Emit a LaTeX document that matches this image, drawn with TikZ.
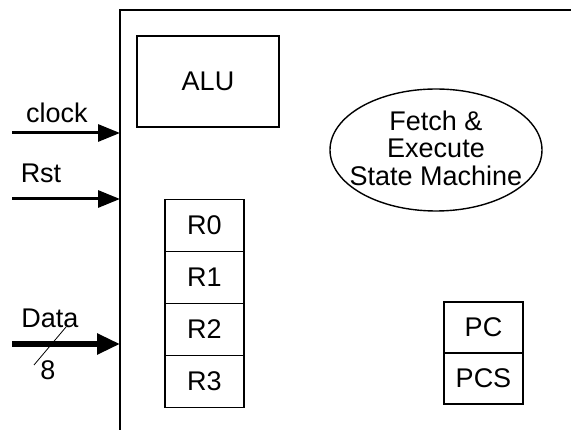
\documentclass[tikz,border=0pt]{standalone}
\usepackage{fontspec}
\setmainfont{Liberation Sans}
\usetikzlibrary{positioning,shapes.geometric,arrows.meta}

\begin{document}
\begin{tikzpicture}[x=1pt, y=-1pt, node distance=0pt,
		font=\fontsize{27}{27.5}\selectfont,
		block/.style={rectangle, draw, line width=1.8pt, outer sep=0pt, inner sep=0pt},
		reg/.style={block, minimum width=79pt, minimum height=52pt},
		sig/.style={line width=3pt, -{Triangle[length=22pt,width=17pt]}},
		bus/.style={line width=5.5pt, -{Triangle[length=23pt,width=20pt]}}]
		\useasboundingbox (0,0) rectangle (571,430);
		
		% CPU outline (open to the right and bottom)
		\draw [line width=2.2pt] (571,10) -- (120,10) -- (120,430);
		
		% Nodes
		\node [block, line width=2.2pt, minimum width=142pt, minimum height=91pt] (alu) at (208,81.5) {ALU};
		\node [ellipse, draw, line width=1.4pt, minimum width=212pt, minimum height=122pt] (fsm) at (436,150) {};
		\node [align=center] (fsmtext) at ([yshift=2pt]fsm.center) {Fetch \&\\Execute\\State Machine};
		
		\node [reg] (r0) at (204.5,225.5) {R0};
		\node [reg, below=of r0] (r1) {R1};
		\node [reg, below=of r1] (r2) {R2};
		\node [reg, below=of r2] (r3) {R3};
		
		\node [reg, minimum height=51pt] (pc) at (483.5,327.5) {PC};
		\node [reg, minimum height=51pt, below=of pc] (pcs) {PCS};
		
		% Inputs
		\coordinate (clk) at (12,133);
		\coordinate (clkin) at (120,133);
		\coordinate (rst) at (12,199);
		\coordinate (rstin) at (120,199);
		\coordinate (data) at (12,344);
		\coordinate (datain) at (120,344);
		
		\node (clklabel) at (57,113) {clock};
		\node (rstlabel) at (41,173) {Rst};
		\node (datalabel) at (50,318) {Data};
		\node (buswidth) at (48,370) {8};
		
		% Arrows
		\draw [sig] (clk) -- (clkin);
		\draw [sig] (rst) -- (rstin);
		\draw [bus] (data) -- (datain);
		\draw [line width=0.8pt] (34,365) -- (66,327);
	\end{tikzpicture}
\end{document}
